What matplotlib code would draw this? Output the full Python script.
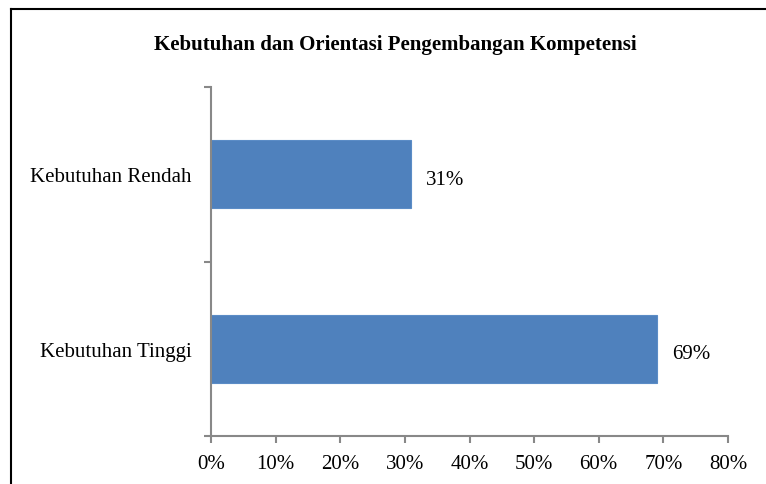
import matplotlib
matplotlib.use("Agg")
import matplotlib.pyplot as plt
from matplotlib.lines import Line2D
from matplotlib.transforms import ScaledTranslation

categories = ["Kebutuhan Tinggi", "Kebutuhan Rendah"]
values = [69, 31]
xticks = [0, 10, 20, 30, 40, 50, 60, 70, 80]
title = "Kebutuhan dan Orientasi Pengembangan Kompetensi"

plt.rcParams['font.family'] = ['Liberation Serif', 'DejaVu Serif']

W, H = 766, 485
fig = plt.figure(figsize=(W/100, H/100), dpi=100)
ax = fig.add_axes([211/W, 1-437/H, (728-211)/W, (437-88)/H])

FS = 15
ypos = list(range(len(categories)))
ax.barh(ypos, values, height=0.39, color="#4F81BD", edgecolor="#5B8CC6", linewidth=0.8)
for y, v in zip(ypos, values):
    ax.text(v + 2.3, y, f"{v}%", va="center", ha="left", fontsize=FS, color="black",
            transform=ax.transData + ScaledTranslation(0, -5/100, fig.dpi_scale_trans))

ax.set_xlim(0, 80)
ax.set_ylim(-0.5, 1.5)
ax.set_xticks(xticks)
ax.set_xticklabels([f"{t}%" for t in xticks], fontsize=FS)
ax.set_yticks(ypos)
ax.set_yticklabels(categories, fontsize=FS, va="center_baseline")
ax.set_yticks([-0.5, 0.5, 1.5], minor=True)
ax.tick_params(axis='y', which='major', length=0, pad=14)
ax.tick_params(axis='y', which='minor', length=5, width=1.5, color="#888888", direction='out')
ax.tick_params(axis='x', which='major', length=5, width=1.5, color="#888888", direction='out', pad=8)

for s in ["top", "right"]:
    ax.spines[s].set_visible(False)
for s in ["left", "bottom"]:
    ax.spines[s].set_color("#888888")
    ax.spines[s].set_linewidth(1.5)

fig.text(395/W, 1-45/H, title, ha="center", va="center", fontsize=15, fontweight="bold")

# outer border (left and top)
fig.add_artist(Line2D([11/W, 11/W], [0, 1-10/H], transform=fig.transFigure, color="black", linewidth=1.5))
fig.add_artist(Line2D([11/W, 1], [1-10/H, 1-10/H], transform=fig.transFigure, color="black", linewidth=1.5))

fig.savefig("out.png", dpi=100)
